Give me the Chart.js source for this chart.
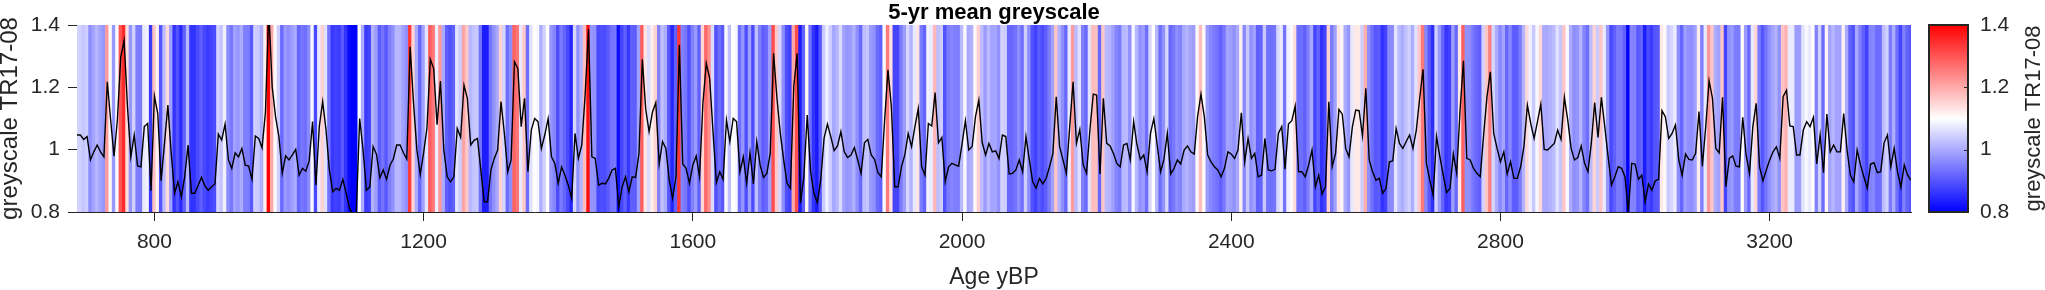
<!DOCTYPE html>
<html>
<head>
<meta charset="utf-8">
<title>5-yr mean greyscale</title>
<script src="https://cdn.jsdelivr.net/npm/chart.js@4.4.1/dist/chart.umd.min.js"></script>
<style>
  html, body { margin: 0; padding: 0; background: #fff; }
  #wrap { position: relative; width: 2045px; height: 290px; }
  #main { position: absolute; left: 0; top: 0; }
  #cbar { position: absolute; left: 1920px; top: 0; }
</style>
</head>
<body>
<div id="wrap">
  <canvas id="main" width="1925" height="290"></canvas>
  <canvas id="cbar" width="125" height="290"></canvas>
</div>
<script>
"use strict";

// 5-yr bins, first bin age (yBP) and bin width
const firstAge = 685;
const binYears = 5;

// 5-yr mean greyscale TR17-08
const greyscale = [
  1.047,1.047,1.033,1.042,0.967,0.993,1.015,0.993,0.977,1.218,
  1.095,0.979,1.095,1.298,1.35,1.138,0.977,1.047,0.948,0.945,
  1.074,1.084,0.868,1.172,1.116,0.90,1.02,1.143,0.988,0.86,
  0.897,0.849,0.913,1.015,0.86,0.86,0.886,0.911,0.884,0.87,
  0.881,0.89,1.05,1.031,1.082,0.967,0.94,0.99,0.977,1.004,
  0.95,0.947,0.905,1.044,
  1.036,1.006,1.12,1.45,1.202,1.106,1.042,0.924,0.98,0.967,
  0.983,1.001,0.918,0.94,0.931,0.964,1.09,0.886,1.074,1.154,
  1.063,0.935,0.865,0.876,0.87,0.905,0.86,0.812,0.79,0.80,
  1.10,1.0,0.87,0.88,1.01,0.985,0.91,0.935,0.905,0.95,
  0.97,1.015,1.015,0.99,0.97,1.33,1.15,1.0,0.92,0.99,
  1.07,1.29,1.26,1.08,1.22,1.0,
  0.913,0.897,0.913,1.068,1.04,1.207,1.165,1.015,1.03,1.036,
  0.935,0.833,0.833,0.935,0.972,0.999,1.154,1.052,0.929,0.967,
  1.282,1.261,1.074,1.165,0.929,1.063,1.10,1.09,1.004,1.047,
  1.10,0.977,0.956,0.892,0.945,0.918,0.886,0.844,1.052,0.972,
  1.015,1.175,1.386,0.977,0.972,0.886,0.892,0.89,0.908,0.935,
  0.94,0.817,0.881,0.913,0.865,
  0.913,0.911,0.988,1.29,1.13,1.058,1.12,1.151,0.954,1.026,
  1.004,0.902,0.844,0.913,1.336,0.954,0.94,0.892,0.951,0.98,
  0.913,1.149,1.277,1.229,1.058,0.894,0.929,0.905,1.095,1.026,
  1.10,1.09,0.929,0.977,0.892,0.99,0.89,1.026,0.951,0.911,
  0.924,0.988,1.309,1.165,1.052,0.967,0.892,0.876,1.202,1.309,
  0.828,0.913,1.111,
  0.929,0.86,0.83,0.902,1.036,1.082,1.042,0.997,1.012,1.058,
  0.993,0.975,0.983,1.007,0.967,0.924,1.022,1.033,0.983,0.969,
  0.926,0.913,1.095,1.256,1.138,0.881,0.881,0.945,0.983,1.052,
  1.01,1.074,1.132,0.945,0.918,1.084,1.076,1.183,1.022,1.039,
  0.897,0.945,0.956,0.951,0.947,1.018,1.093,0.999,1.01,1.106,
  1.159,1.022,0.983,1.02,0.993,
  0.996,0.972,1.047,1.042,0.922,0.924,0.935,0.967,0.929,1.042,
  0.967,0.897,0.876,0.908,0.89,0.908,0.945,0.988,1.17,1.01,
  0.967,0.924,1.074,1.218,1.02,1.065,0.951,0.924,1.063,1.178,
  1.175,0.922,1.165,1.02,1.012,0.988,0.956,0.945,1.015,1.02,
  0.967,1.09,1.015,0.969,0.983,0.929,1.052,1.10,1.015,0.929,
  0.969,1.052,0.922,0.94,0.967,
  0.954,0.999,1.012,0.993,0.986,1.106,1.178,1.106,0.983,0.961,
  0.945,0.935,0.913,0.94,0.993,0.986,0.972,0.999,1.118,0.961,
  1.036,0.972,0.988,0.913,0.918,1.036,0.935,0.932,0.937,1.052,
  1.074,0.937,1.082,1.093,1.14,0.929,0.929,0.913,0.951,0.999,
  0.881,0.918,0.858,0.881,1.154,0.945,0.988,1.129,1.114,1.004,
  0.977,1.074,1.127,1.125,1.044,
  1.197,0.967,0.929,0.902,0.908,0.86,0.876,0.961,0.964,1.068,
  1.02,1.004,1.026,1.047,1.004,1.063,1.165,1.258,0.956,0.902,
  0.854,1.042,0.977,0.918,0.862,0.876,0.986,0.924,1.127,1.285,
  0.972,0.967,0.94,0.924,0.913,1.047,1.17,1.25,1.052,1.004,
  0.961,0.993,0.922,0.961,0.908,0.908,0.945,1.012,1.143,1.084,
  1.036,1.09,1.146,1.001,0.999,
  1.009,1.02,1.063,1.033,1.168,1.095,1.004,0.967,0.975,1.012,
  0.956,0.929,1.02,1.151,1.039,1.168,1.074,0.977,0.886,0.913,
  0.945,0.94,0.913,0.80,0.956,0.954,0.905,0.918,0.833,0.89,
  0.87,0.90,0.905,1.125,1.106,1.036,1.052,1.079,0.967,0.918,
  0.986,0.969,0.967,0.988,1.122,0.947,1.074,1.221,1.165,1.004,
  0.99,1.168,0.881,0.972,0.98,
  0.947,0.945,1.104,0.983,0.924,1.074,1.149,0.945,0.90,0.935,
  0.967,0.993,1.009,0.972,1.17,1.191,1.076,1.074,0.983,0.983,
  1.063,1.09,1.074,1.104,0.954,1.047,0.926,1.114,0.993,1.015,
  0.993,0.993,1.116,0.999,0.918,0.897,0.999,0.951,0.913,0.876,
  0.954,0.958,0.926,0.929,1.022,1.047,0.945,1.004,0.929,0.879,
  0.951,0.918,0.902
];

const ages = greyscale.map((v, i) => firstAge + i * binYears);

const xTicks = [800, 1200, 1600, 2000, 2400, 2800, 3200];
const yTicks = [0.8, 1, 1.2, 1.4];
const yMin = 0.8;
const yMax = 1.4;

const axisColor = "#262626";
const family = "'Liberation Sans', Arial, sans-serif";

// blue - white - red colour map over yMin..yMax
function greyColor(v) {
  const mid = (yMin + yMax) / 2;
  let r, g, b;
  if (v <= mid) {
    const t = Math.max(0, (v - yMin) / (mid - yMin));
    r = g = Math.round(255 * t);
    b = 255;
  } else {
    const t = Math.min(1, (v - mid) / (yMax - mid));
    r = 255;
    g = b = Math.round(255 * (1 - t));
  }
  return "rgb(" + r + "," + g + "," + b + ")";
}

new Chart(document.getElementById("main"), {
  type: "bar",
  data: {
    datasets: [
      {
        type: "line",
        data: ages.map((a, i) => ({ x: a, y: greyscale[i] })),
        borderColor: "#000",
        borderWidth: 1.4,
        pointRadius: 0,
        tension: 0,
        order: 0
      },
      {
        type: "bar",
        data: ages.map(a => ({ x: a, y: [yMin, yMax] })),
        backgroundColor: greyscale.map(greyColor),
        borderWidth: 0,
        barPercentage: 1,
        categoryPercentage: 1,
        inflateAmount: 0.5,
        order: 1
      }
    ]
  },
  options: {
    responsive: false,
    animation: false,
    layout: { padding: { left: 0, right: 14, top: 0, bottom: 0 } },
    plugins: {
      legend: { display: false },
      tooltip: { enabled: false },
      title: {
        display: true,
        text: "5-yr mean greyscale",
        fullSize: false,
        color: "#000",
        font: { family: family, size: 22, weight: "bold", lineHeight: 1 },
        padding: { top: 2, bottom: 1 }
      }
    },
    scales: {
      x: {
        type: "linear",
        min: firstAge,
        max: ages[ages.length - 1],
        offset: false,
        afterFit: s => { s.height = 78; },
        afterBuildTicks: s => { s.ticks = xTicks.map(v => ({ value: v })); },
        ticks: {
          color: axisColor,
          font: { family: family, size: 21 },
          padding: 9,
          maxRotation: 0,
          autoSkip: false,
          callback: v => String(v)
        },
        grid: { display: true, offset: false, drawOnChartArea: false, drawTicks: true, tickLength: 9, tickColor: axisColor, tickWidth: 1 },
        border: { display: true, color: axisColor, width: 1 },
        title: { display: true, text: "Age yBP", color: axisColor, font: { family: family, size: 23, lineHeight: 1 }, padding: { top: 0, bottom: 1 } }
      },
      y: {
        min: yMin,
        max: yMax,
        afterFit: s => { s.width = 77; },
        afterBuildTicks: s => { s.ticks = yTicks.map(v => ({ value: v })); },
        ticks: {
          color: axisColor,
          font: { family: family, size: 21 },
          padding: 8,
          callback: v => String(v)
        },
        grid: { display: true, drawOnChartArea: false, drawTicks: true, tickLength: 9, tickColor: axisColor, tickWidth: 1 },
        border: { display: true, color: axisColor, width: 1 },
        title: { display: true, text: "greyscale TR17-08", color: axisColor, font: { family: family, size: 24, lineHeight: 1 }, padding: { top: -2, bottom: 0 } }
      }
    }
  }
});

// colour bar: gradient box, inner ticks and rotated label
const cbarStops = [yMin, (yMin + yMax) / 2, yMax];
const colorbarPlugin = {
  id: "colorbar",
  beforeDraw(chart) {
    const ctx = chart.ctx;
    const a = chart.chartArea;
    const ys = chart.scales.y;
    const grad = ctx.createLinearGradient(0, ys.getPixelForValue(yMin), 0, ys.getPixelForValue(yMax));
    cbarStops.forEach(v => grad.addColorStop((v - yMin) / (yMax - yMin), greyColor(v)));
    ctx.save();
    ctx.fillStyle = grad;
    ctx.fillRect(a.left, a.top, a.right - a.left, a.bottom - a.top);
    ctx.restore();
  },
  afterDraw(chart) {
    const ctx = chart.ctx;
    const a = chart.chartArea;
    const ys = chart.scales.y;
    ctx.save();
    ctx.strokeStyle = axisColor;
    ctx.lineWidth = 2;
    ctx.strokeRect(a.left, a.top, a.right - a.left, a.bottom - a.top);
    ctx.lineWidth = 1;
    yTicks.forEach(v => {
      const y = Math.round(ys.getPixelForValue(v)) + 0.5;
      ctx.beginPath();
      ctx.moveTo(a.right - 4, y);
      ctx.lineTo(a.right, y);
      ctx.stroke();
    });
    ctx.fillStyle = axisColor;
    ctx.font = "22px " + family;
    ctx.textAlign = "center";
    ctx.textBaseline = "middle";
    ctx.translate(114, (a.top + a.bottom) / 2);
    ctx.rotate(-Math.PI / 2);
    ctx.fillText("greyscale TR17-08", 0, 0);
    ctx.restore();
  }
};

new Chart(document.getElementById("cbar"), {
  type: "bar",
  data: { labels: [], datasets: [] },
  options: {
    responsive: false,
    animation: false,
    layout: { padding: { left: 9, top: 25, bottom: 78, right: 0 } },
    plugins: { legend: { display: false }, tooltip: { enabled: false } },
    scales: {
      x: { display: false },
      y: {
        position: "right",
        min: yMin,
        max: yMax,
        afterFit: s => { s.width = 77; },
        afterBuildTicks: s => { s.ticks = yTicks.map(v => ({ value: v })); },
        ticks: { color: axisColor, font: { family: family, size: 21 }, padding: 12, callback: v => String(v) },
        grid: { display: false, drawTicks: false },
        border: { display: false }
      }
    }
  },
  plugins: [colorbarPlugin]
});
</script>
</body>
</html>
